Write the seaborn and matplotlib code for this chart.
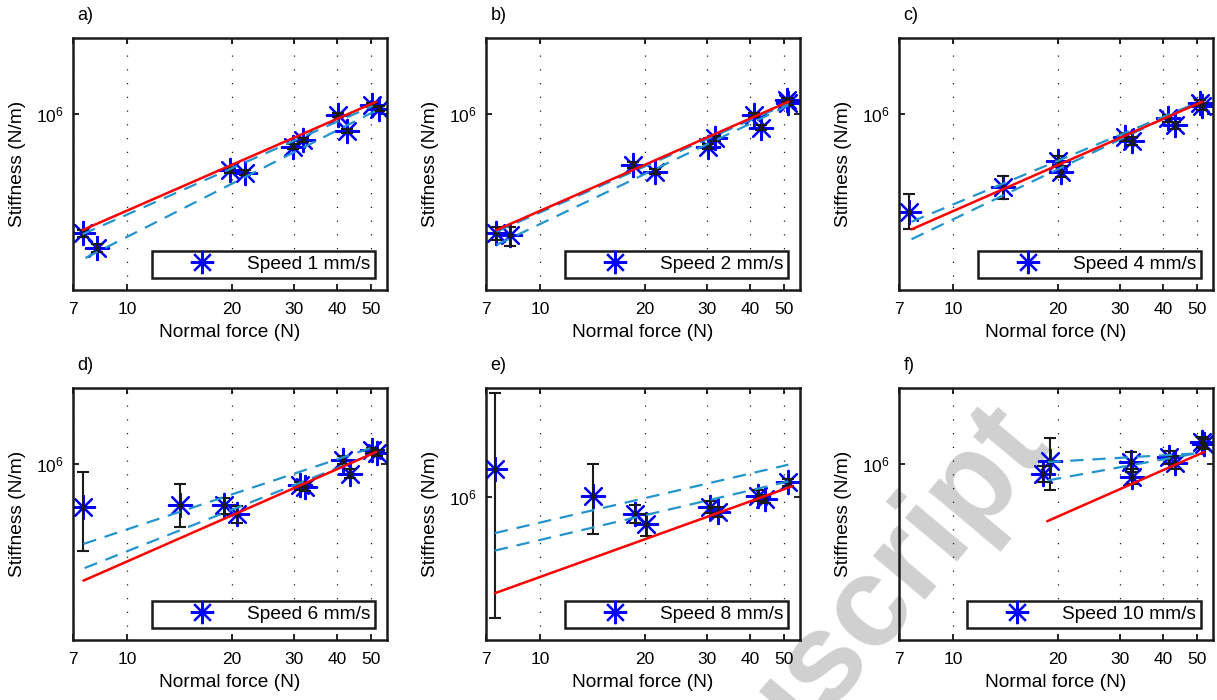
import matplotlib
matplotlib.use('Agg')
import matplotlib.pyplot as plt
import matplotlib.ticker as mticker
from matplotlib.lines import Line2D
import seaborn as sns

# --- values (force in N, stiffness in N/m) ---
speeds = [1, 2, 4, 6, 8, 10]
panel_tags = ['a)', 'b)', 'c)', 'd)', 'e)', 'f)']
x_ticks = [7, 10, 20, 30, 40, 50]

force_1 = [7.46, 8.18, 19.7, 21.7, 29.9, 32.0, 40.3, 42.6, 50.3, 52.5]
stiff_1 = [3.36e5, 2.93e5, 5.98e5, 5.84e5, 7.41e5, 7.88e5, 9.9e5, 8.55e5, 1.084e6, 1.05e6]
low_1 = [3.25e5, 2.82e5, 5.85e5, 5.72e5, 7.25e5, 7.72e5, 9.7e5, 8.38e5, 1.06e6, 1.03e6]
high_1 = [3.47e5, 3.04e5, 6.11e5, 5.96e5, 7.57e5, 8.04e5, 1.01e6, 8.72e5, 1.108e6, 1.07e6]

force_2 = [7.5, 8.2, 18.4, 21.3, 30.3, 31.7, 41.0, 42.9, 50.9, 51.4]
stiff_2 = [3.36e5, 3.30e5, 6.26e5, 5.89e5, 7.41e5, 8.0e5, 9.9e5, 8.82e5, 1.135e6, 1.10e6]
low_2 = [3.16e5, 3.0e5, 6.1e5, 5.75e5, 7.25e5, 7.82e5, 9.7e5, 8.65e5, 1.11e6, 1.08e6]
high_2 = [3.55e5, 3.55e5, 6.42e5, 6.03e5, 7.57e5, 8.18e5, 1.01e6, 9.0e5, 1.16e6, 1.12e6]

force_4 = [7.5, 13.9, 20.0, 20.4, 31.0, 32.5, 41.3, 43.1, 51.0, 51.6]
stiff_4 = [4.09e5, 5.14e5, 6.5e5, 5.9e5, 8.1e5, 7.8e5, 9.6e5, 9.0e5, 1.10e6, 1.07e6]
low_4 = [3.48e5, 4.59e5, 6.2e5, 5.6e5, 7.8e5, 7.5e5, 9.3e5, 8.7e5, 1.07e6, 1.04e6]
high_4 = [4.81e5, 5.67e5, 6.8e5, 6.2e5, 8.4e5, 8.1e5, 9.9e5, 9.3e5, 1.13e6, 1.10e6]

force_6 = [7.46, 14.2, 19.0, 20.7, 31.3, 32.4, 41.6, 43.5, 50.3, 51.9]
stiff_6 = [6.73e5, 6.88e5, 6.84e5, 6.3e5, 8.21e5, 8.09e5, 1.033e6, 9.14e5, 1.13e6, 1.10e6]
low_6 = [4.52e5, 5.6e5, 6.32e5, 5.8e5, 7.9e5, 7.8e5, 1.0e6, 8.8e5, 1.10e6, 1.07e6]
high_6 = [9.28e5, 8.29e5, 7.34e5, 6.8e5, 8.5e5, 8.4e5, 1.07e6, 9.5e5, 1.16e6, 1.13e6]

force_8 = [7.42, 14.2, 18.7, 20.1, 30.6, 32.3, 42.0, 44.0, 51.4]
stiff_8 = [1.29e6, 1.01e6, 8.57e5, 7.81e5, 9.09e5, 8.7e5, 1.01e6, 9.8e5, 1.14e6]
low_8 = [3.31e5, 7.12e5, 7.85e5, 7.0e5, 8.6e5, 8.3e5, 9.6e5, 9.4e5, 1.10e6]
high_8 = [2.57e6, 1.344e6, 9.24e5, 8.57e5, 9.6e5, 9.1e5, 1.06e6, 1.02e6, 1.18e6]

force_10 = [18.1, 18.9, 32.4, 32.5, 41.5, 43.2, 51.5, 52.4]
stiff_10 = [9.14e5, 1.03e6, 1.017e6, 8.86e5, 1.06e6, 1.01e6, 1.22e6, 1.20e6]
low_10 = [8.5e5, 7.85e5, 9.3e5, 8.3e5, 1.0e6, 9.5e5, 1.17e6, 1.15e6]
high_10 = [9.8e5, 1.27e6, 1.11e6, 9.5e5, 1.12e6, 1.07e6, 1.28e6, 1.25e6]

# power-law fits: overall (red) and the two repetitions (dashed)
fit_x_1, fit_1 = [7.46, 51.7], [3.46e5, 1.117e6]
up_x_1, up_1 = [7.46, 50.5], [3.33e5, 1.075e6]
dn_x_1, dn_1 = [7.6, 52.0], [2.68e5, 1.035e6]

fit_x_2, fit_2 = [7.5, 51.4], [3.46e5, 1.117e6]
up_x_2, up_2 = [7.5, 51.4], [3.41e5, 1.10e6]
dn_x_2, dn_2 = [7.5, 51.4], [3.02e5, 1.08e6]

fit_x_4, fit_4 = [7.6, 51.7], [3.48e5, 1.117e6]
up_x_4, up_4 = [7.6, 51.0], [3.73e5, 1.12e6]
dn_x_4, dn_4 = [7.6, 46.1], [3.18e5, 1.05e6]

fit_x_6, fit_6 = [7.5, 51.7], [3.44e5, 1.115e6]
up_x_6, up_6 = [7.5, 51.0], [4.81e5, 1.167e6]
dn_x_6, dn_6 = [7.56, 51.0], [3.86e5, 1.10e6]

fit_x_8, fit_8 = [7.42, 52.7], [4.14e5, 1.10e6]
up_x_8, up_8 = [7.42, 51.4], [7.17e5, 1.34e6]
dn_x_8, dn_8 = [7.42, 51.4], [6.11e5, 1.15e6]

fit_x_10, fit_10 = [18.6, 52.4], [5.92e5, 1.115e6]
up_x_10, up_10 = [18.7, 49.5], [1.017e6, 1.10e6]
dn_x_10, dn_10 = [18.7, 49.5], [8.6e5, 1.10e6]

forces = [force_1, force_2, force_4, force_6, force_8, force_10]
stiffs = [stiff_1, stiff_2, stiff_4, stiff_6, stiff_8, stiff_10]
lows = [low_1, low_2, low_4, low_6, low_8, low_10]
highs = [high_1, high_2, high_4, high_6, high_8, high_10]
fits = [(fit_x_1, fit_1), (fit_x_2, fit_2), (fit_x_4, fit_4),
        (fit_x_6, fit_6), (fit_x_8, fit_8), (fit_x_10, fit_10)]
ups = [(up_x_1, up_1), (up_x_2, up_2), (up_x_4, up_4),
       (up_x_6, up_6), (up_x_8, up_8), (up_x_10, up_10)]
dns = [(dn_x_1, dn_1), (dn_x_2, dn_2), (dn_x_4, dn_4),
       (dn_x_6, dn_6), (dn_x_8, dn_8), (dn_x_10, dn_10)]
y_limits = [(2e5, 2e6), (2e5, 2e6), (2e5, 2e6), (2e5, 2e6), (2.7e5, 2.7e6), (2e5, 2e6)]

# --- style ---
sns.set_theme(style='white')
plt.rcParams.update({
    'font.family': ['Liberation Sans', 'DejaVu Sans'],
    'mathtext.fontset': 'custom',
    'mathtext.rm': 'Liberation Sans',
    'mathtext.it': 'Liberation Sans:italic',
    'mathtext.bf': 'Liberation Sans:bold',
    'axes.edgecolor': 'black',
    'axes.linewidth': 1.8,
    'xtick.labelsize': 12.5,
    'ytick.labelsize': 12.5,
    'axes.labelsize': 13.8,
    'legend.fontsize': 13.8,
    'text.color': 'black',
    'axes.labelcolor': 'black',
    'xtick.color': 'black',
    'ytick.color': 'black',
})

BLUE = '#0000ff'
RED = '#ff0000'
CYAN = '#2394cc'
STAR = (8, 2, 0)

fig = plt.figure(figsize=(12.17, 7), dpi=100)

# watermark behind everything
fig.text(1052 / 1217, 1 - 448 / 700, 'Accepted Manuscript', fontsize=92, fontweight='bold',
         color='#d0d0d0', rotation=50, rotation_mode='anchor', ha='right', va='baseline',
         zorder=-1)

lefts = [73, 486, 899]
tops = [38, 388]
W, H = 314, 252

for i in range(6):
    r, c = divmod(i, 3)
    ax = fig.add_axes([lefts[c] / 1217, 1 - (tops[r] + H) / 700, W / 1217, H / 700])
    ax.set_facecolor('none')
    ax.set_xscale('log')
    ax.set_yscale('log')

    f, k = forces[i], stiffs[i]
    sns.scatterplot(x=f, y=k, marker=STAR, s=280, color=BLUE, edgecolor=None,
                    linewidth=1.6, ax=ax, zorder=2, legend=False)
    yerr = [[a - b for a, b in zip(k, lows[i])], [b - a for a, b in zip(k, highs[i])]]
    ax.errorbar(f, k, yerr=yerr, fmt='o', ms=3, color='k', ecolor='k',
                elinewidth=1.5, capsize=4.6, capthick=1.5, zorder=3)

    for (lx, ly) in (ups[i], dns[i]):
        sns.lineplot(x=lx, y=ly, color=CYAN, linewidth=1.6, linestyle=(0, (6, 4)),
                     estimator=None, errorbar=None, sort=False, ax=ax, zorder=4)
    sns.lineplot(x=fits[i][0], y=fits[i][1], color=RED, linewidth=1.8,
                 estimator=None, errorbar=None, sort=False, ax=ax, zorder=5)

    ax.set_xlim(7, 55.5)
    ax.set_ylim(*y_limits[i])
    ax.xaxis.set_major_locator(mticker.FixedLocator(x_ticks))
    ax.xaxis.set_major_formatter(mticker.FixedFormatter([str(t) for t in x_ticks]))
    ax.yaxis.set_major_locator(mticker.FixedLocator([1e6]))
    ax.yaxis.set_major_formatter(mticker.FixedFormatter([r'$\mathrm{10^{6}}$']))
    ax.xaxis.set_minor_locator(mticker.NullLocator())
    ax.yaxis.set_minor_locator(mticker.NullLocator())
    ax.tick_params(which='both', direction='in', bottom=True, left=True, top=True,
                   right=True, length=4, width=1.2)
    ax.tick_params(axis='x', pad=8.5)
    ax.tick_params(axis='y', pad=7)
    ax.grid(True, axis='x', which='major', color='k', linestyle=(0, (1, 10)), linewidth=0.9)
    ax.grid(False, axis='y')
    for sp in ax.spines.values():
        sp.set_linewidth(1.8)
        sp.set_color('k')

    ax.set_xlabel('Normal force (N)', labelpad=5)
    ax.set_ylabel('Stiffness (N/m)', labelpad=7)
    ax.text(0.015, 1.09, panel_tags[i], transform=ax.transAxes, fontsize=13, va='center')

    handle = Line2D([], [], marker=STAR, color=BLUE, linestyle='none',
                    markersize=16.8, markeredgewidth=1.6)
    leg = ax.legend(handles=[handle], labels=[f'Speed {speeds[i]} mm/s'],
                    loc='lower right', bbox_to_anchor=(0.962, 0.048), borderaxespad=0,
                    borderpad=0.25, handlelength=4.7, handletextpad=0.0,
                    frameon=True, fancybox=False, edgecolor='k', framealpha=1)
    leg.get_frame().set_linewidth(1.8)

fig.savefig('out.png', dpi=100)
